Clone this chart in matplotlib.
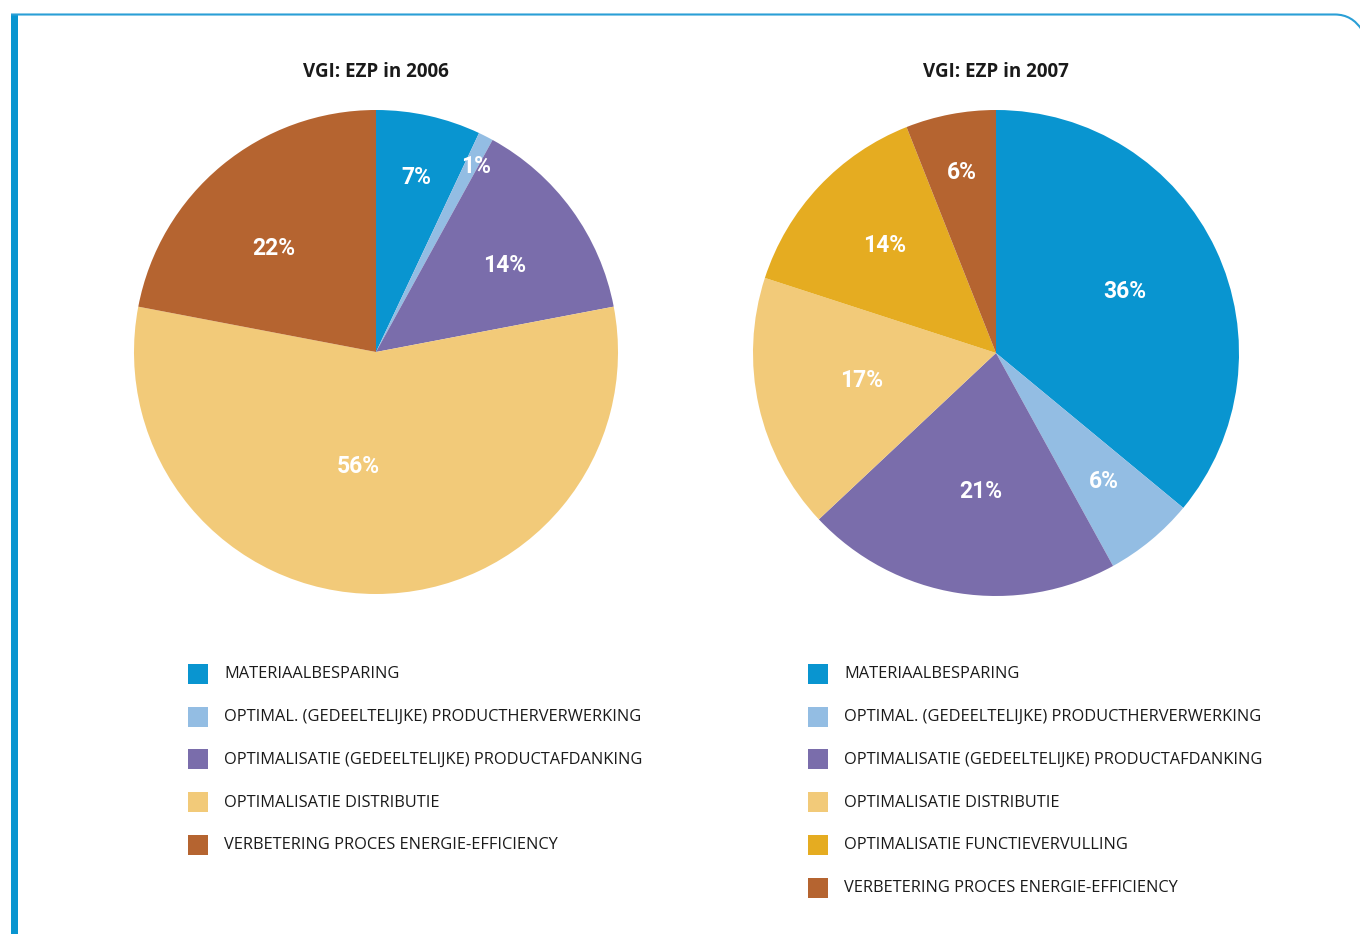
import matplotlib
matplotlib.use("Agg")
import matplotlib.pyplot as plt
import numpy as np
from matplotlib.patches import Rectangle, PathPatch
from matplotlib.path import Path

W, H = 1360, 934

categories_2006 = ["MATERIAALBESPARING",
                   "OPTIMAL. (GEDEELTELIJKE) PRODUCTHERVERWERKING",
                   "OPTIMALISATIE (GEDEELTELIJKE) PRODUCTAFDANKING",
                   "OPTIMALISATIE DISTRIBUTIE",
                   "VERBETERING PROCES ENERGIE-EFFICIENCY"]
values_2006 = [7, 1, 14, 56, 22]

categories_2007 = ["MATERIAALBESPARING",
                   "OPTIMAL. (GEDEELTELIJKE) PRODUCTHERVERWERKING",
                   "OPTIMALISATIE (GEDEELTELIJKE) PRODUCTAFDANKING",
                   "OPTIMALISATIE DISTRIBUTIE",
                   "OPTIMALISATIE FUNCTIEVERVULLING",
                   "VERBETERING PROCES ENERGIE-EFFICIENCY"]
values_2007 = [36, 6, 21, 17, 14, 6]

titles = ["VGI: EZP in 2006", "VGI: EZP in 2007"]

color_map = {
    "MATERIAALBESPARING": "#0995d0",
    "OPTIMAL. (GEDEELTELIJKE) PRODUCTHERVERWERKING": "#93bde3",
    "OPTIMALISATIE (GEDEELTELIJKE) PRODUCTAFDANKING": "#7a6dab",
    "OPTIMALISATIE DISTRIBUTIE": "#f2ca79",
    "OPTIMALISATIE FUNCTIEVERVULLING": "#e5ac21",
    "VERBETERING PROCES ENERGIE-EFFICIENCY": "#b56430",
}

# label placement (fraction of radius, angle offset in degrees)
label_r_2006 = [0.74, 0.87, 0.64, 0.48, 0.60]
label_da_2006 = [-0.5, -1.5, -2, -9, 5]
label_r_2007 = [0.588, 0.69, 0.575, 0.563, 0.637, 0.754]
label_da_2007 = [0.1, 0.6, 2.8, -1.2, -1.0, -0.1]

fig = plt.figure(figsize=(W / 100, H / 100), dpi=100)
fig.patch.set_facecolor("white")

def px_axes(cx, cy, r):
    return fig.add_axes([(cx - r) / W, 1 - (cy + r) / H, 2 * r / W, 2 * r / H])

def draw_pie(cx, cy, r, cats, vals, title, lr, lda, legend_x):
    ax = px_axes(cx, cy, r)
    colors = [color_map[c] for c in cats]
    wedges, _ = ax.pie(vals, colors=colors, startangle=90, counterclock=False,
                       radius=1.0, wedgeprops=dict(linewidth=0))
    ax.set_xlim(-1, 1)
    ax.set_ylim(-1, 1)
    ax.set_aspect("equal")
    ax.axis("off")
    for w, v, rf, da in zip(wedges, vals, lr, lda):
        mid = np.deg2rad((w.theta1 + w.theta2) / 2 + da)
        ax.text(rf * np.cos(mid), rf * np.sin(mid), f"{v}%", color="white",
                fontsize=16.5, fontweight="bold", family="Roboto",
                ha="center", va="center")
    fig.text(cx / W, 1 - 72 / H, title, ha="center", va="center",
             fontsize=13.5, fontweight="bold", family="Open Sans", color="#1a1a1a")
    # legend
    for i, c in enumerate(cats):
        y = 674 + i * 42.7
        fig.patches.append(Rectangle((legend_x / W, 1 - (y + 10) / H), 20 / W, 20 / H,
                                     transform=fig.transFigure, facecolor=color_map[c],
                                     edgecolor="none"))
        fig.text((legend_x + 36) / W, 1 - (y + 0.5) / H, c, ha="left", va="center",
                 fontsize=11.8, family="Open Sans", color="#1a1a1a")

draw_pie(376, 352, 242, categories_2006, values_2006, titles[0],
         label_r_2006, label_da_2006, 188)
draw_pie(996, 353, 243, categories_2007, values_2007, titles[1],
         label_r_2007, label_da_2007, 808)

# border decoration
fig.patches.append(Rectangle((11 / W, 0), 7 / W, 1 - 14 / H, transform=fig.transFigure,
                             facecolor="#0995d0", edgecolor="none"))
verts = [(11, 14.5), (1335, 14.5), (1352, 14.5), (1362, 30)]
codes = [Path.MOVETO, Path.LINETO, Path.CURVE3, Path.CURVE3]
path = Path([(x / W, 1 - y / H) for x, y in verts], codes)
fig.patches.append(PathPatch(path, transform=fig.transFigure, facecolor="none",
                             edgecolor="#2a9fd6", linewidth=1.5))

fig.savefig("out.png", dpi=100, facecolor="white")
